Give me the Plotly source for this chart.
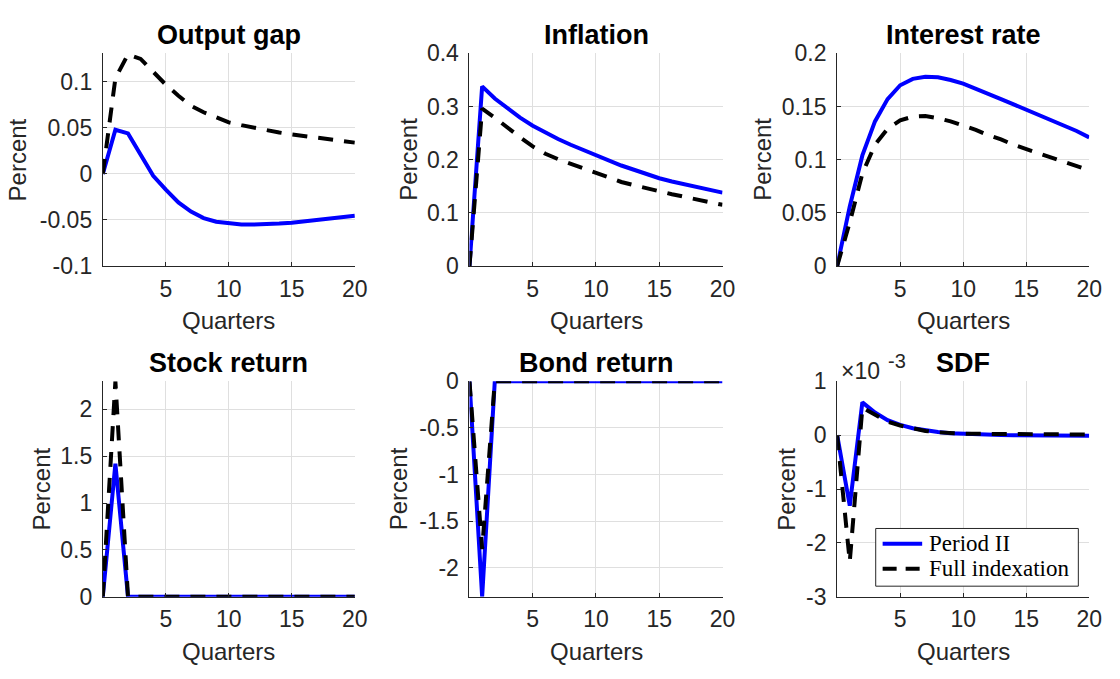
import plotly.graph_objects as go
from plotly.subplots import make_subplots

# Horizon (quarters after the shock)
quarters = [0, 1, 2, 3, 4, 5, 6, 7, 8, 9, 10, 11, 12, 13, 14, 15, 16, 17, 18, 19, 20]

# Impulse responses: "Period II" (solid) and "Full indexation" (dashed)
output_gap_p2 = [0, 0.048, 0.044, 0.021, -0.002, -0.017, -0.031, -0.041, -0.048, -0.052, -0.054,
                 -0.055, -0.055, -0.0547, -0.054, -0.053, -0.0515, -0.050, -0.0485, -0.047, -0.0455]
output_gap_fi = [0, 0.104, 0.130, 0.125, 0.111, 0.097, 0.085, 0.074, 0.067, 0.061, 0.056,
                 0.053, 0.050, 0.0475, 0.045, 0.043, 0.041, 0.0395, 0.038, 0.0358, 0.034]

inflation_p2 = [0, 0.338, 0.315, 0.296, 0.279, 0.264, 0.251, 0.239, 0.228, 0.218, 0.208,
                0.198, 0.189, 0.181, 0.173, 0.165, 0.159, 0.154, 0.148, 0.143, 0.138]
inflation_fi = [0, 0.296, 0.279, 0.260, 0.242, 0.225, 0.211, 0.201, 0.192, 0.183, 0.174,
                0.166, 0.158, 0.152, 0.146, 0.140, 0.135, 0.130, 0.125, 0.120, 0.115]

interest_p2 = [0, 0.056, 0.104, 0.136, 0.157, 0.170, 0.176, 0.178, 0.1775, 0.175, 0.1715,
               0.167, 0.162, 0.157, 0.152, 0.147, 0.142, 0.137, 0.1325, 0.127, 0.121]
interest_fi = [0, 0.041, 0.087, 0.114, 0.129, 0.137, 0.1405, 0.141, 0.139, 0.136, 0.132,
               0.128, 0.123, 0.119, 0.114, 0.110, 0.106, 0.102, 0.098, 0.094, 0.090]

stock_p2 = [0, 1.42, 0, 0, 0, 0, 0, 0, 0, 0, 0, 0, 0, 0, 0, 0, 0, 0, 0, 0, 0]
stock_fi = [0, 2.30, 0, 0, 0, 0, 0, 0, 0, 0, 0, 0, 0, 0, 0, 0, 0, 0, 0, 0, 0]

bond_p2 = [0, -2.31, 0, 0, 0, 0, 0, 0, 0, 0, 0, 0, 0, 0, 0, 0, 0, 0, 0, 0, 0]
bond_fi = [0, -1.80, 0, 0, 0, 0, 0, 0, 0, 0, 0, 0, 0, 0, 0, 0, 0, 0, 0, 0, 0]

sdf_p2 = [0, -0.00131, 0.00061, 0.00042, 0.00028, 0.00019, 0.00013, 0.00009, 0.00006, 0.000036, 0.000024,
          0.000012, 0.000006, 0.000002, 0.0, -0.000004, -0.000006, -0.000008, -0.000009, -0.00001, -0.00001]
sdf_fi = [0, -0.00235, 0.00051, 0.00037, 0.00025, 0.00018, 0.00012, 0.000078, 0.000054, 0.000036, 0.00003,
          0.000025, 0.000022, 0.00002, 0.000019, 0.000018, 0.000017, 0.000016, 0.000015, 0.000014, 0.000013]

titles = ["Output gap", "Inflation", "Interest rate", "Stock return", "Bond return", "SDF"]
series_p2 = [output_gap_p2, inflation_p2, interest_p2, stock_p2, bond_p2, sdf_p2]
series_fi = [output_gap_fi, inflation_fi, interest_fi, stock_fi, bond_fi, sdf_fi]
legend_names = ["Period II", "Full indexation"]

y_ranges = [[-0.1, 0.131], [0, 0.4], [0, 0.2], [0, 2.3], [-2.31, 0], [-0.003, 0.001]]
y_tickvals = [[-0.1, -0.05, 0, 0.05, 0.1], [0, 0.1, 0.2, 0.3, 0.4], [0, 0.05, 0.1, 0.15, 0.2],
              [0, 0.5, 1, 1.5, 2], [-2, -1.5, -1, -0.5, 0], [-0.003, -0.002, -0.001, 0, 0.001]]
y_ticktext = [["-0.1", "-0.05", "0", "0.05", "0.1"], ["0", "0.1", "0.2", "0.3", "0.4"],
              ["0", "0.05", "0.1", "0.15", "0.2"], ["0", "0.5", "1", "1.5", "2"],
              ["-2", "-1.5", "-1", "-0.5", "0"], ["-3", "-2", "-1", "0", "1"]]
x_tickvals = [5, 10, 15, 20]

W, H = 1120, 679
SANS = "Liberation Sans, Arial, Helvetica, sans-serif"
SERIF = "Liberation Serif, Times New Roman, serif"
AX = "#262626"
BLUE = "#0000ff"
DASH = "15px,11px"
TICK_SIZE, LABEL_SIZE, TITLE_SIZE = 23, 24, 27

# plot-area boxes in pixels: (left, right) per column, (top, bottom) per row
col_px = [(104, 359), (475, 731), (847, 1102)]
row_px = [(42, 263), (383, 607)]
ylabel_x = [18, 413, 772, 42, 403, 795]

fig = make_subplots(rows=2, cols=3)

for i in range(6):
    r, c = divmod(i, 3)
    fig.add_hline(y=0, line=dict(color="black", width=1.2, dash="10px,5px"), layer="between",
                  row=r + 1, col=c + 1)
    fig.add_trace(go.Scatter(x=quarters, y=series_p2[i], mode="lines", name=legend_names[0],
                             line=dict(color=BLUE, width=4), showlegend=False),
                  row=r + 1, col=c + 1)
    fig.add_trace(go.Scatter(x=quarters, y=series_fi[i], mode="lines", name=legend_names[1],
                             line=dict(color="black", width=4, dash=DASH), showlegend=False),
                  row=r + 1, col=c + 1)

layout = {}
annotations = []
for i in range(6):
    r, c = divmod(i, 3)
    sfx = "" if i == 0 else str(i + 1)
    left, right = col_px[c]
    top, bottom = row_px[r]
    layout["xaxis" + sfx] = dict(
        domain=[left / W, right / W], range=[0, 20], tickvals=x_tickvals,
        ticktext=[str(v) for v in x_tickvals], showgrid=True, gridcolor="#dfdfdf", gridwidth=1,
        showline=True, linecolor=AX, linewidth=1, ticks="inside", ticklen=4, tickcolor=AX,
        tickfont=dict(family=SANS, size=TICK_SIZE, color=AX), ticklabelstandoff=2,
        zeroline=False, fixedrange=True)
    layout["yaxis" + sfx] = dict(
        domain=[1 - bottom / H, 1 - top / H], range=y_ranges[i], tickvals=y_tickvals[i],
        ticktext=y_ticktext[i], showgrid=True, gridcolor="#dfdfdf", gridwidth=1,
        showline=True, linecolor=AX, linewidth=1, ticks="inside", ticklen=4, tickcolor=AX,
        tickfont=dict(family=SANS, size=TICK_SIZE, color=AX), ticklabelstandoff=5,
        zeroline=False, fixedrange=True)
    cx = (left + right) / 2
    annotations.append(dict(text="<b>" + titles[i] + "</b>", x=cx / W, y=1 - (top - 19) / H,
                            xref="paper", yref="paper", xanchor="center", yanchor="middle",
                            showarrow=False, font=dict(family=SANS, size=TITLE_SIZE, color="black")))
    annotations.append(dict(text="Quarters", x=cx / W, y=1 - (bottom + 57) / H,
                            xref="paper", yref="paper", xanchor="center", yanchor="middle",
                            showarrow=False, font=dict(family=SANS, size=LABEL_SIZE, color=AX)))
    annotations.append(dict(text="Percent", x=ylabel_x[i] / W, y=1 - (top + bottom) / 2 / H,
                            xref="paper", yref="paper", xanchor="center", yanchor="middle",
                            textangle=-90, showarrow=False,
                            font=dict(family=SANS, size=LABEL_SIZE, color=AX)))

# exponent label of the SDF panel
annotations.append(dict(text="×10", x=849 / W, y=1 - 372 / H, xref="paper", yref="paper",
                        xanchor="left", yanchor="middle", showarrow=False,
                        font=dict(family=SANS, size=23, color=AX)))
annotations.append(dict(text="-3", x=896 / W, y=1 - 362 / H, xref="paper", yref="paper",
                        xanchor="left", yanchor="middle", showarrow=False,
                        font=dict(family=SANS, size=20, color=AX)))

# legend box in the SDF panel
shapes = [dict(type="rect", xref="paper", yref="paper", x0=886 / W, x1=1091 / W,
               y0=1 - 596 / H, y1=1 - 536 / H, fillcolor="white", line=dict(color=AX, width=1),
               layer="above")]
legend_rows = [(552, dict(color=BLUE, width=4)), (578, dict(color="black", width=4, dash="14px,9px"))]
for (yy, ln), name in zip(legend_rows, legend_names):
    shapes.append(dict(type="line", xref="paper", yref="paper", x0=893 / W, x1=933 / W,
                       y0=1 - yy / H, y1=1 - yy / H, line=ln, layer="above"))
    annotations.append(dict(text=name, x=938 / W, y=1 - yy / H, xref="paper", yref="paper",
                            xanchor="left", yanchor="middle", showarrow=False,
                            font=dict(family=SERIF, size=23, color="black")))

fig.update_layout(
    **layout,
    annotations=annotations,
    shapes=list(fig.layout.shapes) + shapes,
    width=W, height=H, autosize=False,
    margin=dict(l=0, r=0, t=0, b=0),
    paper_bgcolor="white", plot_bgcolor="white",
    showlegend=False,
)

fig.write_html("out.html")
